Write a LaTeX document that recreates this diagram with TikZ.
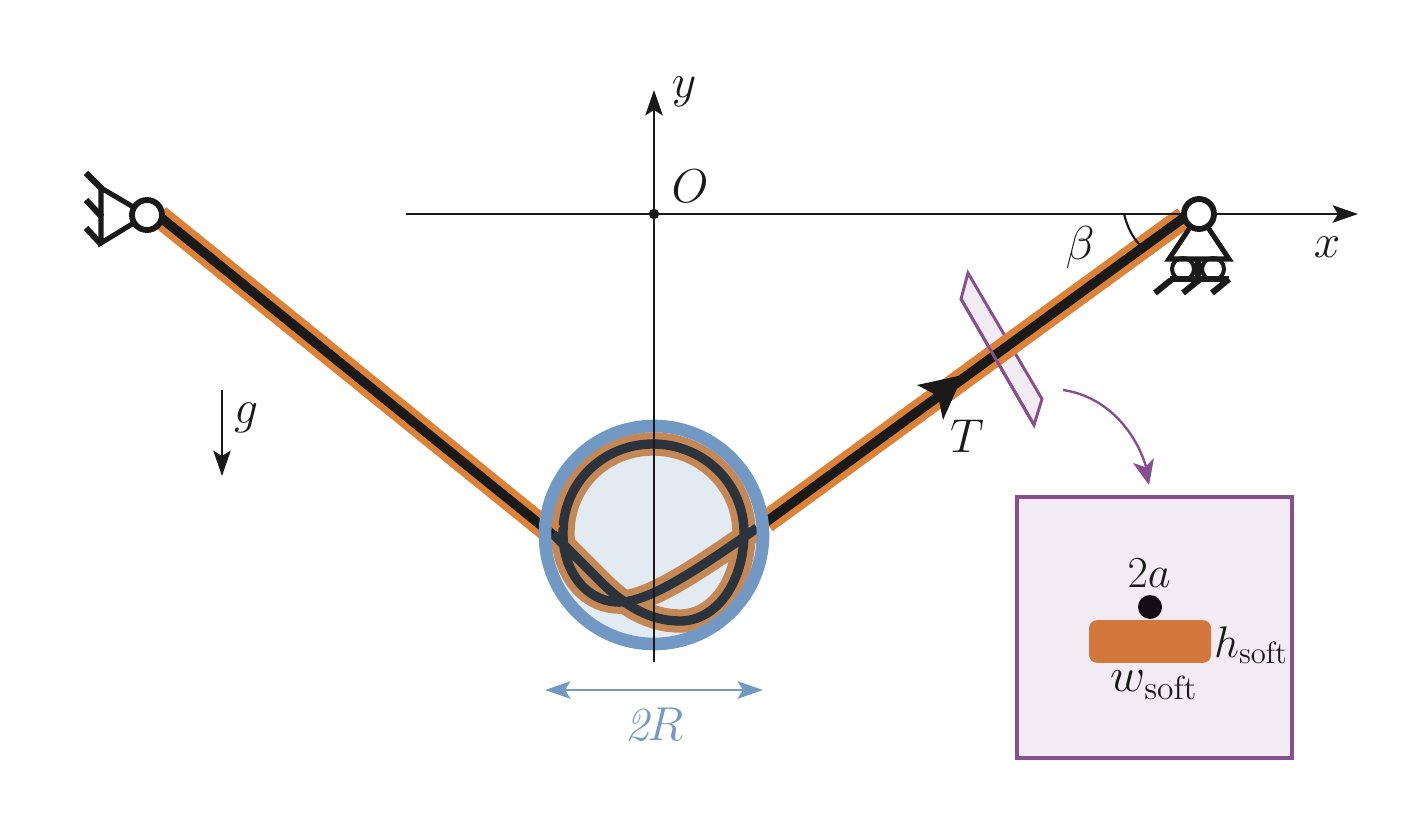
\documentclass[tikz,border=0pt]{standalone}
\usetikzlibrary{arrows.meta}
\definecolor{ropeorange}{HTML}{DD8136}
\definecolor{mutedorange}{HTML}{C58855}
\definecolor{rope}{HTML}{1A1A1A}
\definecolor{mutedrope}{HTML}{2B333C}
\definecolor{ringblue}{HTML}{7199C3}
\definecolor{diskfill}{HTML}{E2EAF2}
\definecolor{purp}{HTML}{874F8D}
\definecolor{purpfill}{HTML}{F2EBF4}
\definecolor{softorange}{HTML}{D3783D}
\tikzset{
  axisline/.style={draw=rope,line width=2pt,-{Stealth[length=19pt,width=13pt,inset=4pt]}},
  support/.style={draw=rope,line width=3.8pt},
  hatchline/.style={draw=rope,line width=4.6pt},
  pinnode/.style={circle,draw=rope,fill=white,line width=4.4pt,minimum size=22.5pt,inner sep=0pt},
  wheelnode/.style={circle,draw=rope,fill=white,line width=3pt,minimum size=16.5pt,inner sep=0pt},
  lab/.style={inner sep=0pt,font=\huge,scale=1.72,text=rope},
  small/.style={inner sep=0pt,font=\huge,scale=1.6,text=rope},
}
\begin{document}
\begin{tikzpicture}[x=0.75pt,y=-0.75pt]
\useasboundingbox (0,0) rectangle (1416,834);
% coordinates
\coordinate (axL) at (406,214); \coordinate (axR) at (1358,214);
\coordinate (ayB) at (654,662); \coordinate (ayT) at (654,90);
\coordinate (C) at (654,535);
\coordinate (leftEnd) at (553,535); \coordinate (leftOr) at (159,216); \coordinate (leftBl) at (152,210.5);
\coordinate (rightEnd) at (766,522); \coordinate (rightOr) at (1184,217.5); \coordinate (rightBl) at (1195,209.5);
% disk
\node[circle,fill=diskfill,minimum size=163.5pt,inner sep=0pt] (disk) at (C) {};
% parallelogram
\filldraw[draw=purp,fill=purpfill,line width=2.2pt,line join=miter]
  (968,273) -- (961,299) -- (1034,425) -- (1042,399) -- cycle;
% loop
\def\loopcurve{(551,532) -- (600,581) .. controls (625,606) and (650,621) .. (680,621)
  .. controls (718,621) and (744,580) .. (744,533)
  .. controls (744,483) and (703,444) .. (653,444)
  .. controls (603,444) and (563,483) .. (563,533)
  .. controls (563,575) and (590,604) .. (622,602)
  .. controls (650,600) and (690,575) .. (757,528)}
\draw[mutedorange,line width=17.5pt,line cap=butt] \loopcurve;
\draw[mutedrope,line width=7pt,line cap=butt] \loopcurve;
% straight rope
\draw[ropeorange,line width=17pt] (leftOr) -- (leftEnd);
\draw[ropeorange,line width=17pt] (rightOr) -- (rightEnd);
\draw[rope,line width=7.2pt] (leftBl) -- (leftEnd);
\draw[rope,line width=7.2pt] (rightBl) -- (rightEnd);
% ring
\node[circle,draw=ringblue,line width=9.5pt,minimum size=163.5pt,inner sep=0pt] (ring) at (C) {};
% near edge of the cut plane
\draw[purp,line width=2.2pt,line cap=round] (961,299) -- (1034,425);
% tangent arrowhead
\fill[rope] (963,375) -- (917,385) -- (938,396) -- (943,420) -- cycle;
% axes
\draw[axisline] (axL) -- (axR);
\draw[axisline] (ayB) -- (ayT);
\fill[rope] (654,214) circle (3.9pt);
% angle
\draw[rope,line width=1.6pt] (1124,214) .. controls (1127,226) and (1132,237) .. (1140,245);
% right support
\node[wheelnode] (w1) at (1183,269) {};
\node[wheelnode] (w2) at (1213,269) {};
\draw[support,line join=miter] (1199,214) -- (1169,259) -- (1229,259) -- cycle;
\draw[support] (1170,279) -- (1229,279);
\draw[support] (1198,259) -- (1198,279);
\draw[hatchline] (1155,293) -- (1171,280);
\draw[hatchline] (1183,293) -- (1199,280);
\draw[hatchline] (1212,293) -- (1229,279);
\node[pinnode] (pinR) at (1199,214) {};
% left support
\draw[support,line join=miter] (147,215) -- (101,188) -- (101,243) -- cycle;
\draw[hatchline] (86,173) -- (102,189);
\draw[hatchline] (86,200) -- (102,217);
\draw[hatchline] (86,228) -- (101,244);
\node[pinnode] (pinL) at (147,215) {};
% gravity
\draw[axisline] (222,390) -- (222,476);
% 2R
\draw[ringblue,line width=2.2pt,{Stealth[length=19pt,width=13pt,inset=4pt]}-{Stealth[length=19pt,width=13pt,inset=4pt]}] (545,690) -- (763,690);
% curved arrow
\coordinate (cA) at (1063,390); \coordinate (cB) at (1147,470);
\draw[purp,line width=1.8pt] (cA) .. controls (1105,396) and (1136,430) .. (cB);
\fill[purp] (1149,485) -- (1133,463) -- (1145,467) -- (1154,458) -- cycle;
% inset
\filldraw[draw=purp,fill=purpfill,line width=3pt] (1017,497) rectangle (1292,758);
\node[fill=softorange,rounded corners=6pt,minimum width=91.5pt,minimum height=32pt,inner sep=0pt] (soft) at (1150,641.5) {};
\node[circle,fill=black!85!purp,minimum size=18pt,inner sep=0pt] (wire) at (1150,607) {};
% labels
\node[lab] (ylab) at (684,92) {$y$};
\node[lab] (Olab) at (690,186) {$O$};
\node[lab] (xlab) at (1327,247) {$x$};
\node[lab] (blab) at (1080,248) {$\beta$};
\node[lab] (glab) at (246,418) {$g$};
\node[lab] (Tlab) at (967,436) {$T$};
\node[lab,text=ringblue] (Rlab) at (654,724) {$\mathit{2}\mkern-3mu R$};
\node[small] (alab) at (1149,573) {$2a$};
\node[small] (hlab) at (1251,645) {$h_{\mathrm{soft}}$};
\node[small,scale=1.09] (wlab) at (1154,685) {$w_{\mathrm{soft}}$};
\end{tikzpicture}
\end{document}
